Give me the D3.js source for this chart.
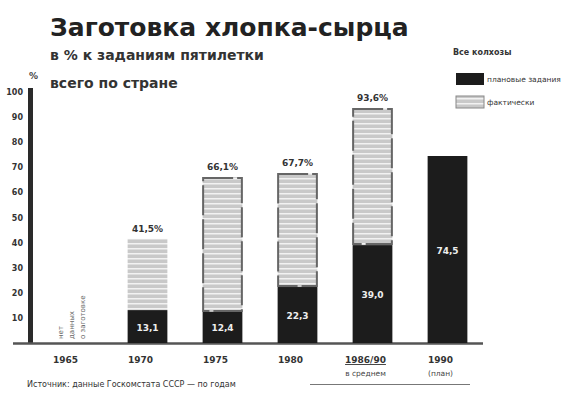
<!DOCTYPE html>
<html><head><meta charset="utf-8">
<script src="https://cdn.jsdelivr.net/npm/d3@7"></script>
<style>body{margin:0;background:#fff}svg{display:block}</style>
</head><body><svg id="c" width="570" height="393"></svg>
<script>
const categories = ["1965", "1970", "1975", "1980", "1986/90", "1990"];
const subLabels = ["", "", "", "", "в среднем", "(план)"];
const totalValues = [null, 41.5, 66.1, 67.7, 93.6, 74.5];
const darkValues = [null, 13.1, 12.4, 22.3, 39.0, 74.5];
const totalLabels = ["", "41,5%", "66,1%", "67,7%", "93,6%", ""];
const darkLabels = ["", "13,1", "12,4", "22,3", "39,0", "74,5"];
const yTicks = [10, 20, 30, 40, 50, 60, 70, 80, 90, 100];
const legendItems = ["плановые задания", "фактически"];
const noDataText = ["нет", "данных", "о заготовке"];

const svg = d3.select("#c");
const F = "'DejaVu Sans', sans-serif";
const dark = "#1c1c1c";

const defs = svg.append("defs");
const pat = defs.append("pattern").attr("id","stripe").attr("patternUnits","userSpaceOnUse")
  .attr("width",8).attr("height",5);
pat.append("rect").attr("width",8).attr("height",5).attr("fill","#c9c9c9");
pat.append("rect").attr("y",3).attr("width",8).attr("height",1.5).attr("fill","#f2f2f2");

const x = d3.scaleBand().domain(categories).range([35, 485]).paddingInner(0.47).paddingOuter(0.235);
const y = d3.scaleLinear().domain([0, 100]).range([343, 92]);

// title
svg.append("text").attr("x",50).attr("y",36).attr("font-family",F).attr("font-weight","bold")
  .attr("font-size",25).attr("fill","#222").text("Заготовка хлопка-сырца");
svg.append("text").attr("x",50).attr("y",60).attr("font-family",F).attr("font-weight","bold")
  .attr("font-size",14).attr("fill","#333").text("в % к заданиям пятилетки");
svg.append("text").attr("x",50).attr("y",88).attr("font-family",F).attr("font-weight","bold")
  .attr("font-size",14).attr("fill","#333").text("всего по стране");

// legend
svg.append("text").attr("x",453).attr("y",55).attr("font-family",F).attr("font-weight","bold")
  .attr("font-size",8).attr("fill","#333").text("Все колхозы");
legendItems.forEach((t,i)=>{
  const yy = 73 + i*23;
  svg.append("rect").attr("x",456).attr("y",yy).attr("width",28).attr("height",12)
    .attr("fill", i===0 ? dark : "url(#stripe)").attr("stroke", i===0?"none":"#888");
  svg.append("text").attr("x",487).attr("y",yy+9).attr("font-family",F).attr("font-size",7.5)
    .attr("fill","#333").text(t);
});

// y axis
svg.append("text").attr("x",29).attr("y",79).attr("font-family",F).attr("font-weight","bold")
  .attr("font-size",9).attr("fill","#444").text("%");
const ya = svg.append("g").attr("transform","translate(23,0)")
  .call(d3.axisLeft(y).tickValues(yTicks).tickSize(0).tickPadding(0));
ya.select(".domain").remove();
ya.selectAll("text").attr("font-family",F).attr("font-weight","bold").attr("font-size",8).attr("fill","#333");
svg.append("rect").attr("x",28).attr("y",y(100)-4).attr("width",5).attr("height",y(0)-y(100)+4).attr("fill","#2a2a2a");

// baseline
svg.append("line").attr("x1",13).attr("x2",483).attr("y1",y(0)+0.5).attr("y2",y(0)+0.5)
  .attr("stroke","#555").attr("stroke-width",2.5);

// bars
const data = categories.map((c,i)=>({c, t: totalValues[i], d: darkValues[i], tl: totalLabels[i], dl: darkLabels[i]}));
const bars = data.filter(d=>d.t!==null);
svg.selectAll(".light").data(bars).join("rect").attr("class","light")
  .attr("x",d=>x(d.c)).attr("width",x.bandwidth())
  .attr("y",d=>y(d.t)).attr("height",d=>y(d.d)-y(d.t))
  .attr("fill","url(#stripe)");
svg.selectAll(".darkb").data(bars).join("rect").attr("class","darkb")
  .attr("x",d=>x(d.c)).attr("width",x.bandwidth())
  .attr("y",d=>y(d.d)).attr("height",d=>y(0)-y(d.d))
  .attr("fill",dark);
// scan-like frames on some light segments
svg.selectAll(".frame").data(bars.filter(d=>d.t-d.d>30 && d.c!=="1990")).join("rect").attr("class","frame")
  .attr("x",d=>x(d.c)+0.5).attr("width",x.bandwidth()-1)
  .attr("y",d=>y(d.t)+1).attr("height",d=>y(d.d)-y(d.t)-2)
  .attr("fill","none").attr("stroke","#666").attr("stroke-width",2).attr("stroke-dasharray","30,4");

svg.selectAll(".tl").data(bars).join("text").attr("class","tl")
  .attr("x",d=>x(d.c)+x.bandwidth()/2).attr("y",d=>y(d.t)-7)
  .attr("text-anchor","middle").attr("font-family",F).attr("font-weight","bold").attr("font-size",9)
  .attr("fill","#333").text(d=>d.tl);
svg.selectAll(".dl").data(bars).join("text").attr("class","dl")
  .attr("x",d=>x(d.c)+x.bandwidth()/2).attr("y",d=>(y(d.d)+y(0))/2+4)
  .attr("text-anchor","middle").attr("font-family",F).attr("font-weight","bold").attr("font-size",9)
  .attr("fill","#eee").text(d=>d.dl);

// first category: no data, vertical text
const c0 = x(categories[0]) + x.bandwidth()/2;
noDataText.forEach((t,i)=>{
  svg.append("text").attr("transform",`translate(${c0-10+i*11},${y(0)-4}) rotate(-90)`)
    .attr("font-family",F).attr("font-size",7).attr("fill","#666").text(t);
});

// x labels
categories.forEach((c,i)=>{
  const cx = x(c)+x.bandwidth()/2 - 7;
  svg.append("text").attr("x",cx).attr("y",363).attr("text-anchor","middle").attr("font-family",F)
    .attr("font-weight","bold").attr("font-size",9).attr("fill","#333")
    .attr("text-decoration", subLabels[i]==="в среднем" ? "underline" : null).text(c);
  if (subLabels[i]) svg.append("text").attr("x",cx).attr("y",376).attr("text-anchor","middle")
    .attr("font-family",F).attr("font-size",7.5).attr("fill","#444").text(subLabels[i]);
});

// footer
svg.append("text").attr("x",27).attr("y",387).attr("font-family",F).attr("font-size",8)
  .attr("fill","#333").text("Источник: данные Госкомстата СССР — по годам");
svg.append("line").attr("x1",310).attr("x2",470).attr("y1",384.5).attr("y2",384.5).attr("stroke","#777");
</script></body></html>
